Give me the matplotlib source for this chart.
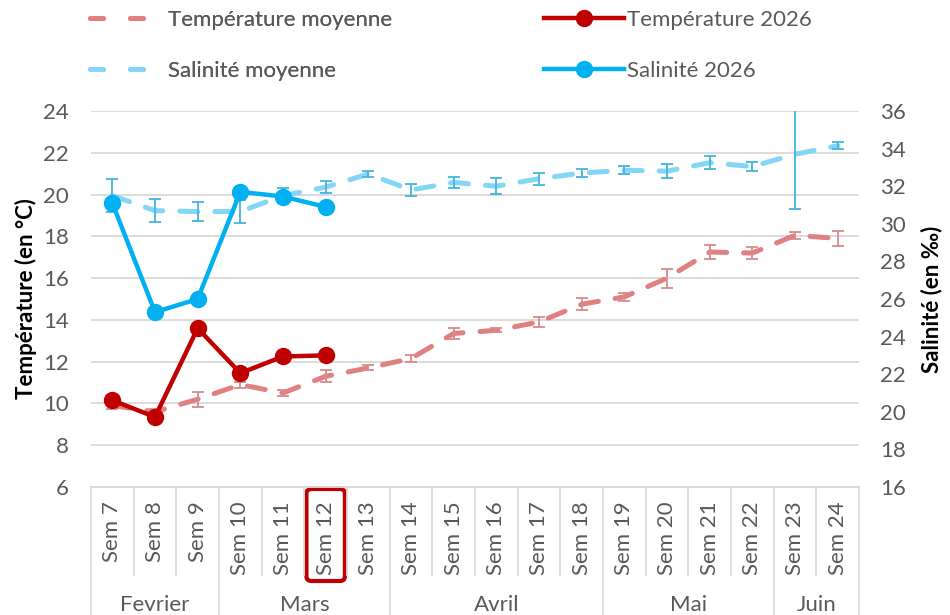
import matplotlib
matplotlib.use("Agg")
import matplotlib.pyplot as plt
import matplotlib.transforms as mtransforms
from matplotlib.patches import FancyBboxPatch
from matplotlib.lines import Line2D

plt.rcParams['font.family'] = ['Lato', 'DejaVu Sans']

# data
weeks = ['Sem %d' % w for w in range(7, 25)]
months = ['Fevrier', 'Mars', 'Avril', 'Mai', 'Juin']
month_weeks = [3, 4, 5, 4, 2]

temp_mean = [9.9, 9.6, 10.2, 10.9, 10.5, 11.3, 11.7, 12.15, 13.35, 13.5, 13.9,
             14.75, 15.1, 16.0, 17.25, 17.2, 18.05, 17.9]
temp_err = [0.15, 0.15, 0.35, 0.15, 0.15, 0.28, 0.12, 0.15, 0.28, 0.1, 0.24,
            0.3, 0.2, 0.45, 0.34, 0.28, 0.18, 0.37]
sal_mean = [31.5, 30.7, 30.65, 30.65, 31.5, 31.95, 32.65, 31.8, 32.2, 32.0, 32.4,
            32.7, 32.85, 32.8, 33.25, 33.05, 33.7, 34.15]
sal_err = [0.86, 0.62, 0.49, 0.6, 0.4, 0.31, 0.15, 0.34, 0.3, 0.42, 0.31,
           0.22, 0.22, 0.38, 0.34, 0.25, 2.9, 0.19]
temp_2026 = [10.15, 9.35, 13.6, 11.45, 12.25, 12.3]
sal_2026 = [31.1, 25.3, 26.0, 31.7, 31.45, 30.9]
highlight = 'Sem 12'

RED_MEAN = '#E08080'
RED_ERR = '#D98A8A'
RED = '#C00000'
BLUE_MEAN = '#83D6F6'
BLUE_ERR = '#45B3DE'
BLUE = '#00B0F0'
TXT = '#595959'
GRID = '#D9D9D9'
FS = 16

fig = plt.figure(figsize=(9.5, 6.15), dpi=100)
ax = fig.add_axes([91 / 950, 128 / 615, 768 / 950, 376 / 615])
ax2 = ax.twinx()

x = list(range(len(weeks)))
x26 = x[:len(temp_2026)]

# temperature (left axis)
ax.errorbar(x, temp_mean, yerr=temp_err, fmt='none', ecolor=RED_ERR,
            elinewidth=1.3, capsize=4.5, capthick=1.3, zorder=4)
ax.plot(x, temp_mean, color=RED_MEAN, lw=3.6, ls=(0, (3.6, 3.4)),
        dash_capstyle='round', zorder=3)
l_t26, = ax.plot(x26, temp_2026, color=RED, lw=3.2, marker='o', ms=11.5,
                 zorder=5, label='Température 2026')

# salinity (right axis)
ax2.errorbar(x, sal_mean, yerr=sal_err, fmt='none', ecolor=BLUE_ERR,
             elinewidth=1.3, capsize=4.5, capthick=1.3, zorder=4)
ax2.plot(x, sal_mean, color=BLUE_MEAN, lw=3.6, ls=(0, (3.6, 3.4)),
         dash_capstyle='round', zorder=3)
l_s26, = ax2.plot(x26, sal_2026, color=BLUE, lw=3.2, marker='o', ms=11.5,
                  zorder=5, label='Salinité 2026')

# legend keys for the dashed means (shorter dashes, wider gap)
l_tm = Line2D([], [], color=RED_MEAN, lw=3.6, ls=(0, (2.6, 5.4)),
              dash_capstyle='round', label='Température moyenne')
l_sm = Line2D([], [], color=BLUE_MEAN, lw=3.6, ls=(0, (2.6, 5.4)),
              dash_capstyle='round', label='Salinité moyenne')

ax.set_xlim(-0.5, len(weeks) - 0.5)
ax.set_ylim(6, 24)
ax.set_yticks(range(6, 25, 2))
ax2.set_ylim(16, 36)
ax2.set_yticks(range(16, 37, 2))
ax.yaxis.grid(True, color=GRID, lw=1.3)
ax.set_axisbelow(True)

for a in (ax, ax2):
    for s in a.spines.values():
        s.set_visible(False)
ax.tick_params(axis='y', length=0, pad=16, labelsize=FS, labelcolor=TXT)
ax2.tick_params(axis='y', length=0, pad=15, labelsize=FS, labelcolor=TXT)

ax.set_xticks(x)
ax.set_xticklabels(weeks, rotation=90, fontsize=FS, color=TXT)
ax.tick_params(axis='x', length=0, pad=10)

# axis titles
fig.text(26 / 950, 1 - 299 / 615, 'Température (en °C)', rotation=90,
         ha='center', va='center', fontsize=FS, fontweight='bold')
fig.text(932 / 950, 1 - 299 / 615, 'Salinité (en ‰)', rotation=90,
         ha='center', va='center', fontsize=FS, fontweight='bold')

# category axis box with month groups
tr = mtransforms.blended_transform_factory(ax.transData, ax.transAxes)
bottom = -128 / 376
week_bottom = -88 / 376
ax.plot([-0.5, len(weeks) - 0.5], [0, 0], transform=tr, color=GRID, lw=1.3,
        clip_on=False)
edges = [-0.5]
for n in month_weeks:
    edges.append(edges[-1] + n)
for i in range(len(weeks) + 1):
    xe = i - 0.5
    yb = bottom if xe in edges else week_bottom
    ax.plot([xe, xe], [0, yb], transform=tr, color=GRID, lw=1.3,
            clip_on=False)
for m, a, b in zip(months, edges[:-1], edges[1:]):
    ax.text((a + b) / 2, -118 / 376, m, transform=tr, ha='center',
            va='center', fontsize=FS, color=TXT)

# highlighted week
hi = weeks.index(highlight)
box = FancyBboxPatch((hi - 0.45, -94 / 376), 0.9, 92 / 376,
                     boxstyle='round,pad=0,rounding_size=0.12',
                     mutation_aspect=0.1,
                     transform=tr, fill=False, ec=RED, lw=3, clip_on=False)
ax.add_patch(box)

# legend
leg1 = fig.legend(handles=[l_tm, l_sm], loc='upper left',
                  bbox_to_anchor=(90 / 950, 1 - 10 / 615), frameon=False,
                  fontsize=FS, handlelength=2.6, handletextpad=0.9,
                  labelspacing=1.4, borderpad=0, borderaxespad=0,
                  labelcolor=TXT)
leg2 = fig.legend(handles=[l_t26, l_s26], loc='upper left',
                  bbox_to_anchor=(544 / 950, 1 - 10 / 615), frameon=False,
                  fontsize=FS, handlelength=3.6, handletextpad=0.15,
                  labelspacing=1.4, borderpad=0, borderaxespad=0,
                  labelcolor=TXT)
fig.add_artist(leg1)

fig.savefig('out.png', dpi=100)
